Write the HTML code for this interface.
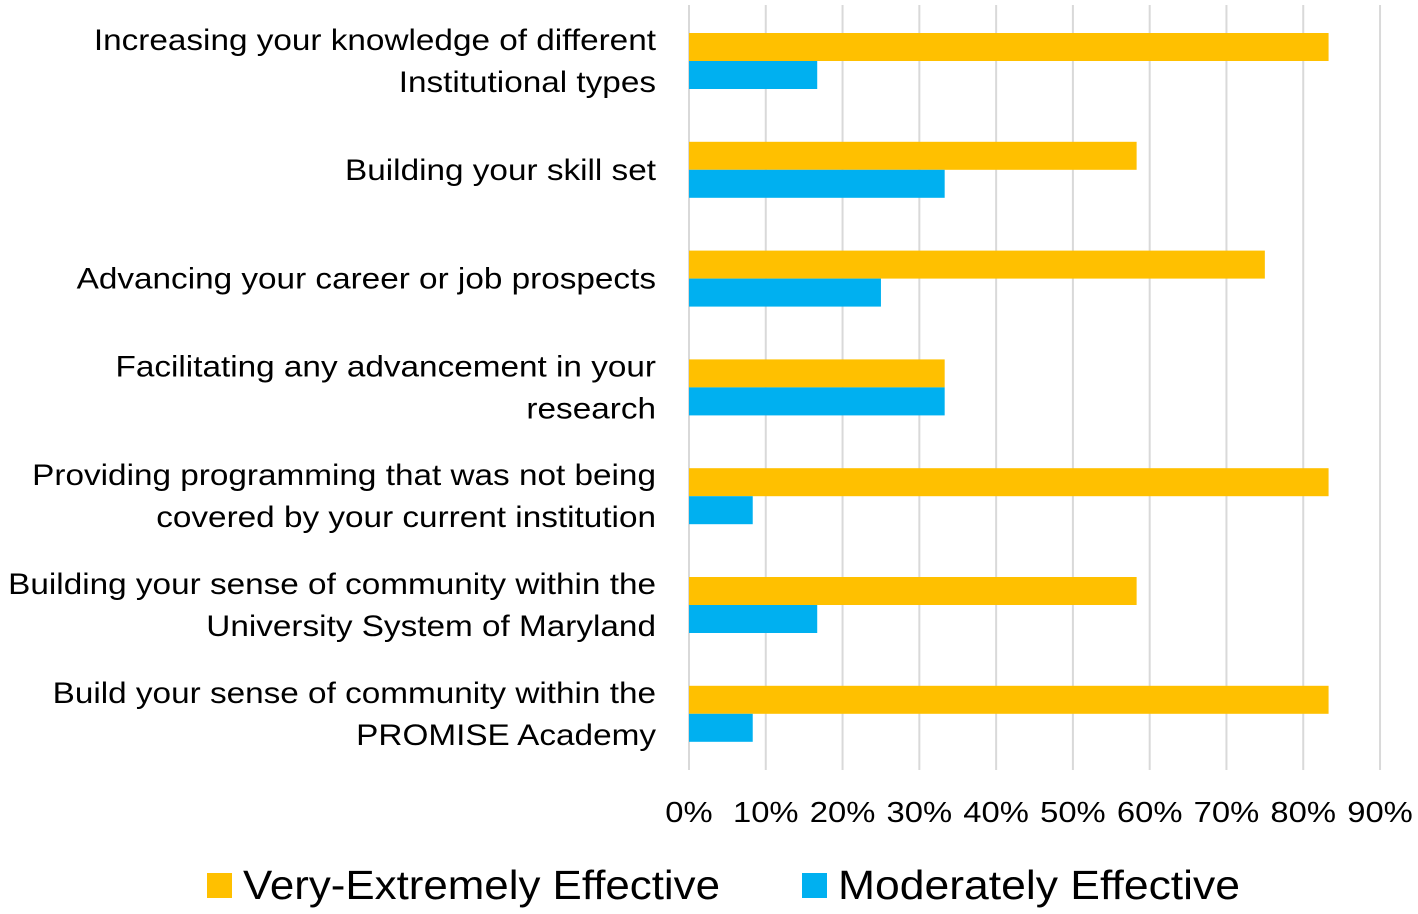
<!DOCTYPE html>
<html><head><meta charset="utf-8"><style>
html,body{margin:0;padding:0;background:#fff;}
svg{display:block;font-family:"Liberation Sans",sans-serif;}
</style></head><body>
<svg id="chart" width="1418" height="914"></svg>
<script>
const categories=[
 ["Increasing your knowledge of different","Institutional types"],
 ["Building your skill set"],
 ["Advancing your career or job prospects"],
 ["Facilitating any advancement in your","research"],
 ["Providing programming that was not being","covered by your current institution"],
 ["Building your sense of community within the","University System of Maryland"],
 ["Build your sense of community within the","PROMISE Academy"]
];
const veryEffective=[83.3,58.3,75,33.3,83.3,58.3,83.3];
const moderatelyEffective=[16.7,33.3,25,33.3,8.3,16.7,8.3];
const ticks=[0,10,20,30,40,50,60,70,80,90];
const tickLabels=["0%","10%","20%","30%","40%","50%","60%","70%","80%","90%"];

const NS="http://www.w3.org/2000/svg";
const svg=document.getElementById('chart');
const x0=689,pxPer=76.78;
const xs=v=>x0+v*pxPer/10;
const bandTop=i=>33+i*108.8;
function mk(tag,attrs,txt){const e=document.createElementNS(NS,tag);for(const k in attrs)e.setAttribute(k,attrs[k]);if(txt!==undefined)e.textContent=txt;svg.appendChild(e);return e;}
function stretch(t,f){const w=t.getComputedTextLength();t.setAttribute('textLength',w*f);t.setAttribute('lengthAdjust','spacingAndGlyphs');}
ticks.forEach((t,i)=>{
 const g=mk('line',{x1:xs(t),x2:xs(t),y1:5,y2:770,stroke:'#d9d9d9','stroke-width':2});
 
 
 const l=mk('text',{x:xs(t),y:822,'text-anchor':'middle','font-size':29,fill:'#000'},tickLabels[i]);
 
 
 stretch(l,1.13);
});
categories.forEach((c,i)=>{
 const top=bandTop(i);
 const b1=mk('rect',{x:x0,y:top,width:xs(veryEffective[i])-x0,height:28,fill:'#FFC000'});
 
 
 const b2=mk('rect',{x:x0,y:top+28,width:xs(moderatelyEffective[i])-x0,height:28,fill:'#00B0F0'});
 
 
 const mid=top+28;
 const n=c.length;
 c.forEach((line,j)=>{
  const y=mid+(j-(n-1)/2)*42+10;
  const t=mk('text',{x:656,y:y,'text-anchor':'end','font-size':30,fill:'#000'},line);
  
  
  stretch(t,1.11);
 });
});
const s1=mk('rect',{x:207,y:873,width:25,height:25,fill:'#FFC000'});


const t1=mk('text',{x:243,y:899,'font-size':41,fill:'#000'},'Very-Extremely Effective');


stretch(t1,477/t1.getComputedTextLength());
const s2=mk('rect',{x:802,y:873,width:25,height:25,fill:'#00B0F0'});


const t2=mk('text',{x:838,y:899,'font-size':41,fill:'#000'},'Moderately Effective');


stretch(t2,402/t2.getComputedTextLength());
</script>
</body></html>
